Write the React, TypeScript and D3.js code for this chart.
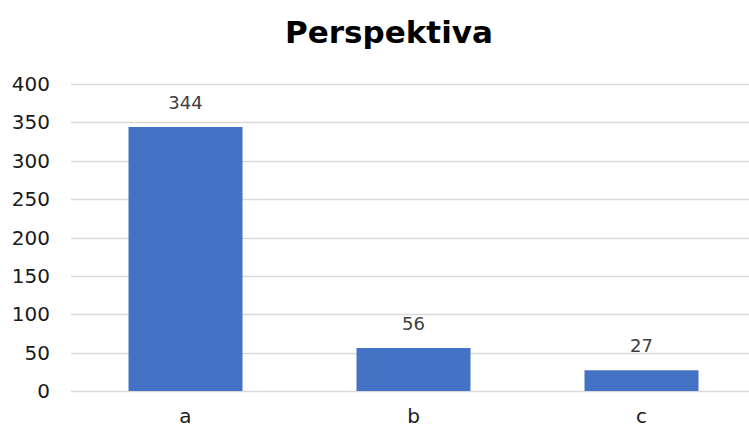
import React from "react";
import * as d3 from "d3";

const categories = ["a", "b", "c"];
const values = [344, 56, 27];
const yTicks = [0, 50, 100, 150, 200, 250, 300, 350, 400];
const title = "Perspektiva";

export default function App() {
  const W = 749, H = 428;
  const x = d3.scaleBand<string>().domain(categories).range([71.5, 755.5]).paddingInner(0.5).paddingOuter(0.25);
  const y = d3.scaleLinear().domain([0, 400]).range([391, 84]);
  const font = "Verdana, 'DejaVu Sans', sans-serif";
  return (
    <svg width={W} height={H} style={{ position: "absolute", left: 0, top: 0, background: "#fff" }} fontFamily={font}>
      <rect width={W} height={H} fill="#fff" />
      <text x={389} y={43} textAnchor="middle" fontSize={31} fontWeight="bold" fill="#000">{title}</text>
      {yTicks.map((t) => (
        <g key={t}>
          <line x1={71} x2={W} y1={Math.round(y(t)) + 0.5} y2={Math.round(y(t)) + 0.5} stroke="#d9d9d9" strokeWidth={1.5} />
          <text x={50} y={y(t) + 7} textAnchor="end" fontSize={20} fill="#1a1a1a">{t}</text>
        </g>
      ))}
      {categories.map((c, i) => (
        <g key={c}>
          <rect x={x(c)!} y={y(values[i])} width={x.bandwidth()} height={y(0) - y(values[i])} fill="#4472c4" />
          <text x={x(c)! + x.bandwidth() / 2} y={y(values[i]) - 18} textAnchor="middle" fontSize={18} fill="#404040">{values[i]}</text>
          <text x={x(c)! + x.bandwidth() / 2} y={423} textAnchor="middle" fontSize={20} fill="#1a1a1a">{c}</text>
        </g>
      ))}
    </svg>
  );
}
